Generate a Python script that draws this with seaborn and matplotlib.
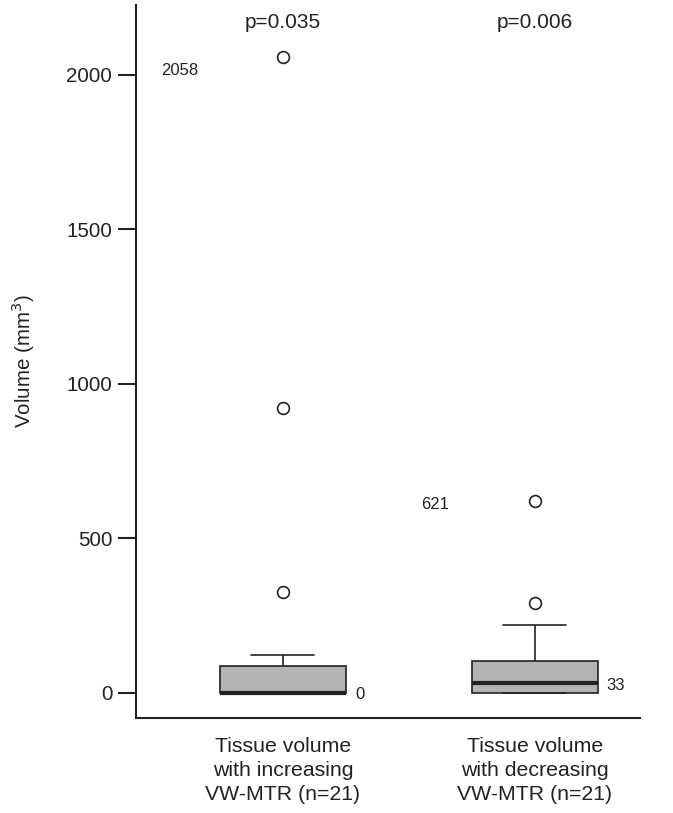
import matplotlib
matplotlib.use("Agg")
import matplotlib.pyplot as plt
import seaborn as sns
import pandas as pd
import numpy as np

categories = ["Tissue volume\nwith increasing\nVW-MTR (n=21)",
              "Tissue volume\nwith decreasing\nVW-MTR (n=21)"]
increasing_vals = [0, 0, 0, 0, 0, 0, 0, 0, 0, 0, 0,
                   5, 15, 30, 60, 87, 100, 123, 325, 922, 2058]
decreasing_vals = [0, 0, 0, 0, 0, 0, 5, 12, 20, 28, 33,
                   45, 60, 75, 90, 104, 140, 180, 220, 290, 621]
p_values = ["p=0.035", "p=0.006"]
max_labels = ["2058", "621"]
median_labels = ["0", "33"]
yticks = [0, 500, 1000, 1500, 2000]

df = pd.DataFrame({
    "group": [categories[0]] * len(increasing_vals) + [categories[1]] * len(decreasing_vals),
    "volume": increasing_vals + decreasing_vals,
})

sns.set_style("white")
plt.rcParams['font.family'] = ['Liberation Sans', 'DejaVu Sans']

fig = plt.figure(figsize=(6.73, 8.13), dpi=100)
ax = fig.add_axes([0.202, 0.117, 0.749, 0.877])

line_c = "#222222"
sns.boxplot(data=df, x="group", y="volume", order=categories, ax=ax,
            color="#b3b3b6", saturation=1, width=0.5, whis=1.5,
            linewidth=1.2, linecolor=line_c,
            boxprops=dict(edgecolor=line_c, linewidth=1.2),
            medianprops=dict(color=line_c, linewidth=3),
            whiskerprops=dict(color=line_c, linewidth=1.2),
            capprops=dict(color=line_c, linewidth=1.2),
            flierprops=dict(marker="o", markersize=8.5, markerfacecolor="white",
                            markeredgecolor=line_c, markeredgewidth=1.2))

ax.set_xlim(-0.583, 1.417)
ax.set_ylim(-81, 2226)
ax.set_yticks(yticks)
ax.set_yticklabels([str(t) for t in yticks], fontsize=14.8, color="#222222")
ax.tick_params(axis="y", direction="out", length=13, width=1.5, color=line_c, pad=4, left=True)
ax.tick_params(axis="x", length=0, labelsize=15.3, labelcolor="#222222", pad=14)
for lbl in ax.get_xticklabels():
    lbl.set_linespacing(1.32)
ax.set_xlabel("")
ax.set_ylabel("Volume (mm$^3$)", fontsize=14.8, color="#222222", labelpad=21)

for s in ["top", "right"]:
    ax.spines[s].set_visible(False)
for s in ["left", "bottom"]:
    ax.spines[s].set_color(line_c)
    ax.spines[s].set_linewidth(1.5)

# p-values at top
for i, p in enumerate(p_values):
    ax.text(i, 2170, p, ha="center", va="center", fontsize=15, color="#222222")

# max labels
ax.text(-0.41, 2015, max_labels[0], ha="center", va="center", fontsize=12, color="#222222")
ax.text(0.603, 610, max_labels[1], ha="center", va="center", fontsize=12, color="#222222")
# median labels
ax.text(0.305, -5, median_labels[0], ha="center", va="center", fontsize=12, color="#222222")
ax.text(1.32, 25, median_labels[1], ha="center", va="center", fontsize=12, color="#222222")

fig.savefig("out.png", dpi=100)
